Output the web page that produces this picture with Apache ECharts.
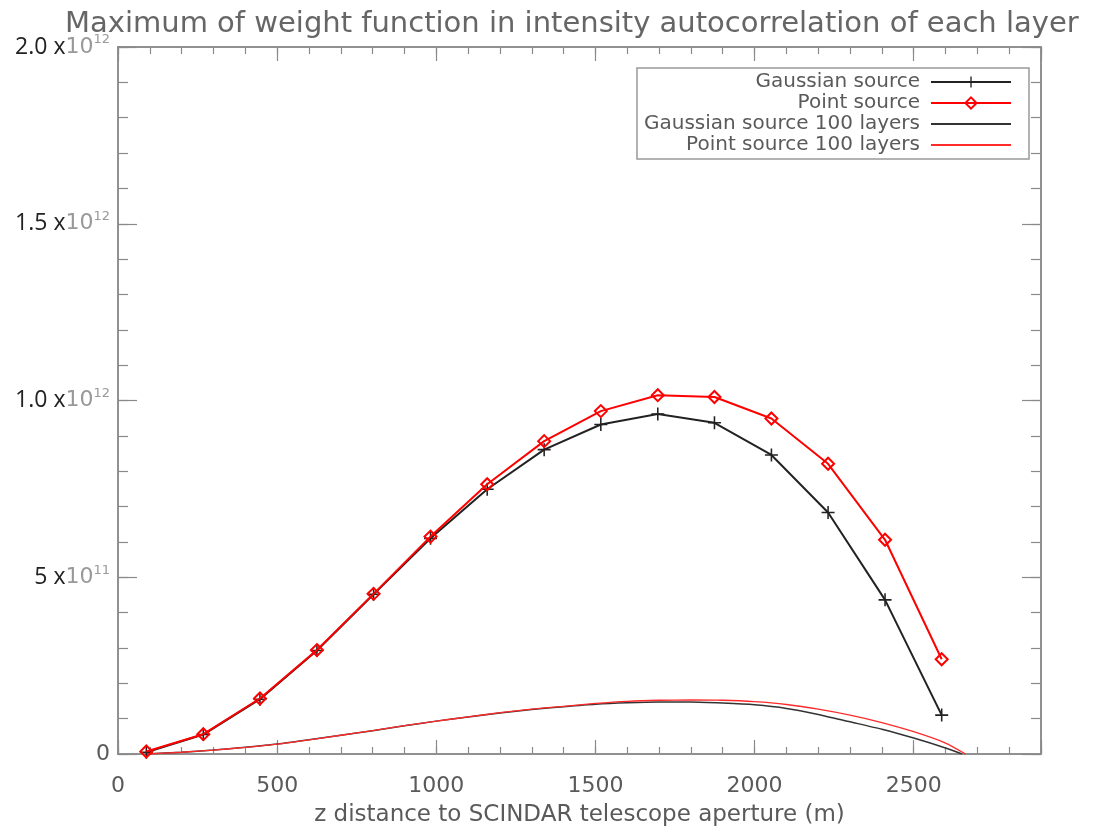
<!DOCTYPE html>
<html>
<head>
<meta charset="utf-8">
<script src="https://cdn.jsdelivr.net/npm/echarts@6/dist/echarts.min.js"></script>
<style>
html, body { margin: 0; padding: 0; background: #fff; }
#chart { width: 1118px; height: 832px; }
</style>
</head>
<body>
<div id="chart"></div>
<script>
// layer positions (m) and peak of weight function, in units of 1e12
var zLayers = [89, 268, 446, 625, 803, 982, 1160, 1339, 1517, 1696, 1874, 2053, 2231, 2410, 2588];
var gaussMax = [0.005, 0.055, 0.155, 0.293, 0.452, 0.610, 0.749, 0.861, 0.932, 0.962, 0.937, 0.846, 0.683, 0.436, 0.110];
var pointMax = [0.007, 0.056, 0.157, 0.294, 0.453, 0.615, 0.763, 0.885, 0.970, 1.015, 1.010, 0.949, 0.821, 0.606, 0.268];

// 100 layers curves
var zGauss100 = [89, 200, 300, 400, 500, 600, 700, 800, 900, 1000, 1100, 1200, 1300, 1400, 1500, 1600, 1700, 1800, 1900, 2000, 2100, 2200, 2300, 2400, 2500, 2600, 2652];
var gauss100 = [0, 0.005, 0.011, 0.019, 0.028, 0.040, 0.053, 0.066, 0.080, 0.093, 0.105, 0.116, 0.126, 0.134, 0.141, 0.145, 0.147, 0.147, 0.144, 0.139, 0.129, 0.112, 0.091, 0.070, 0.045, 0.017, 0];
var zPoint100 = [89, 200, 300, 400, 500, 600, 700, 800, 900, 1000, 1100, 1200, 1300, 1400, 1500, 1600, 1700, 1800, 1900, 2000, 2100, 2200, 2300, 2400, 2500, 2600, 2663];
var point100 = [0, 0.005, 0.011, 0.019, 0.028, 0.040, 0.053, 0.066, 0.080, 0.093, 0.105, 0.117, 0.127, 0.135, 0.143, 0.149, 0.152, 0.153, 0.152, 0.148, 0.140, 0.127, 0.110, 0.089, 0.063, 0.031, 0];

// axis labels
var xTickValues = [0, 500, 1000, 1500, 2000, 2500];
var yTickValues = [0, 0.5, 1.0, 1.5, 2.0];
var yTickMant = ['0', '5 x', '1.0 x', '1.5 x', '2.0 x'];
var yTickExp = ['', '11', '12', '12', '12'];

var seriesNames = ['Gaussian source', 'Point source', 'Gaussian source 100 layers', 'Point source 100 layers'];

function pairs(xs, ys) {
    return xs.map(function (x, i) { return [x, ys[i]]; });
}

var axisGray = '#8a8a8a';
var textGray = '#5a5a5a';
var hershey = 'DejaVu Sans';

function xAxisBase(pos, interval, len, showLabel) {
    return {
        type: 'value', position: pos, min: 0, max: 2900, interval: interval,
        axisLine: { show: true, onZero: false, lineStyle: { color: axisGray, width: 1.5 } },
        axisTick: { show: true, inside: true, length: len, lineStyle: { color: axisGray, width: 1.2 } },
        axisLabel: showLabel ? {
            show: true, margin: 21, fontFamily: hershey, fontSize: 22, color: textGray,
            formatter: function (v) { return xTickValues.indexOf(v) >= 0 ? String(v) : ''; }
        } : { show: false },
        splitLine: { show: false }
    };
}

function yAxisBase(pos, interval, len, showLabel) {
    return {
        type: 'value', position: pos, min: 0, max: 2, interval: interval,
        axisLine: { show: true, onZero: false, lineStyle: { color: axisGray, width: 1.5 } },
        axisTick: { show: true, inside: true, length: len, lineStyle: { color: axisGray, width: 1.2 } },
        axisLabel: showLabel ? {
            show: true, margin: 8,
            formatter: function (v) {
                var i = yTickValues.findIndex(function (t) { return Math.abs(t - v) < 1e-9; });
                if (i < 0) return '';
                if (!yTickExp[i]) return '{z|' + yTickMant[i] + '}';
                return '{m|' + yTickMant[i] + '}{t|10}{e|' + yTickExp[i] + '}';
            },
            rich: {
                z: { fontFamily: hershey, fontSize: 22, color: textGray },
                m: { fontFamily: 'Open Sans', fontSize: 23, color: '#222' },
                t: { fontFamily: hershey, fontSize: 22, color: '#999' },
                e: { fontFamily: hershey, fontSize: 13, color: '#999', padding: [0, 0, 14, 0] }
            }
        } : { show: false },
        splitLine: { show: false }
    };
}

var chart = echarts.init(document.getElementById('chart'));

var xMain = xAxisBase('bottom', 500, 14, true);
xMain.name = 'z distance to SCINDAR telescope aperture (m)';
xMain.nameLocation = 'middle';
xMain.nameGap = 50;
xMain.nameTextStyle = { fontFamily: hershey, fontSize: 23, color: textGray };

var option = {
    backgroundColor: '#fff',
    animation: false,
    title: {
        text: 'Maximum of weight function in intensity autocorrelation of each layer',
        left: 60, top: 5,
        textStyle: { fontFamily: hershey, fontWeight: 'normal', fontSize: 29, color: '#666' }
    },
    legend: {
        orient: 'vertical', align: 'right',
        right: 89, top: 68,
        padding: [4, 17, 4, 7],
        itemGap: 1, itemWidth: 80, itemHeight: 14,
        borderColor: '#999', borderWidth: 1.5,
        textStyle: { fontFamily: hershey, fontSize: 20, color: textGray, padding: [0, 6, 0, 0] },
        data: [
            { name: seriesNames[0] },
            { name: seriesNames[1] },
            { name: seriesNames[2], itemStyle: { color: 'rgba(0,0,0,0)', borderWidth: 0 } },
            { name: seriesNames[3], itemStyle: { color: 'rgba(0,0,0,0)', borderWidth: 0 } }
        ]
    },
    grid: { left: 118, right: 77, top: 47, bottom: 75, containLabel: false },
    xAxis: [
        xMain,
        xAxisBase('bottom', 100, 7, false),
        xAxisBase('top', 500, 14, false),
        xAxisBase('top', 100, 7, false)
    ],
    yAxis: [
        yAxisBase('left', 0.5, 19, true),
        yAxisBase('left', 0.1, 10, false),
        yAxisBase('right', 0.5, 19, false),
        yAxisBase('right', 0.1, 10, false)
    ],
    series: [
        {
            name: seriesNames[0], type: 'line', data: pairs(zLayers, gaussMax),
            symbol: 'path://M4.4,0h1.2v10h-1.2z M0,4.4h10v1.2h-10z', symbolSize: 13, showAllSymbol: true,
            lineStyle: { color: '#222', width: 2 },
            itemStyle: { color: '#222' }, z: 3
        },
        {
            name: seriesNames[1], type: 'line', data: pairs(zLayers, pointMax),
            symbol: 'diamond', symbolSize: 12, showAllSymbol: true,
            lineStyle: { color: '#ff0000', width: 2 },
            itemStyle: { color: 'rgba(0,0,0,0)', borderColor: '#ff0000', borderWidth: 2 }, z: 4
        },
        {
            name: seriesNames[2], type: 'line', data: pairs(zGauss100, gauss100),
            symbol: 'none', smooth: 0.2,
            lineStyle: { color: '#333', width: 1.5 },
            itemStyle: { color: '#333' }, z: 2
        },
        {
            name: seriesNames[3], type: 'line', data: pairs(zPoint100, point100),
            symbol: 'none', smooth: 0.2,
            lineStyle: { color: '#ff2a2a', width: 1.3 },
            itemStyle: { color: '#ff2a2a' }, z: 2
        }
    ]
};

chart.setOption(option);
</script>
</body>
</html>
